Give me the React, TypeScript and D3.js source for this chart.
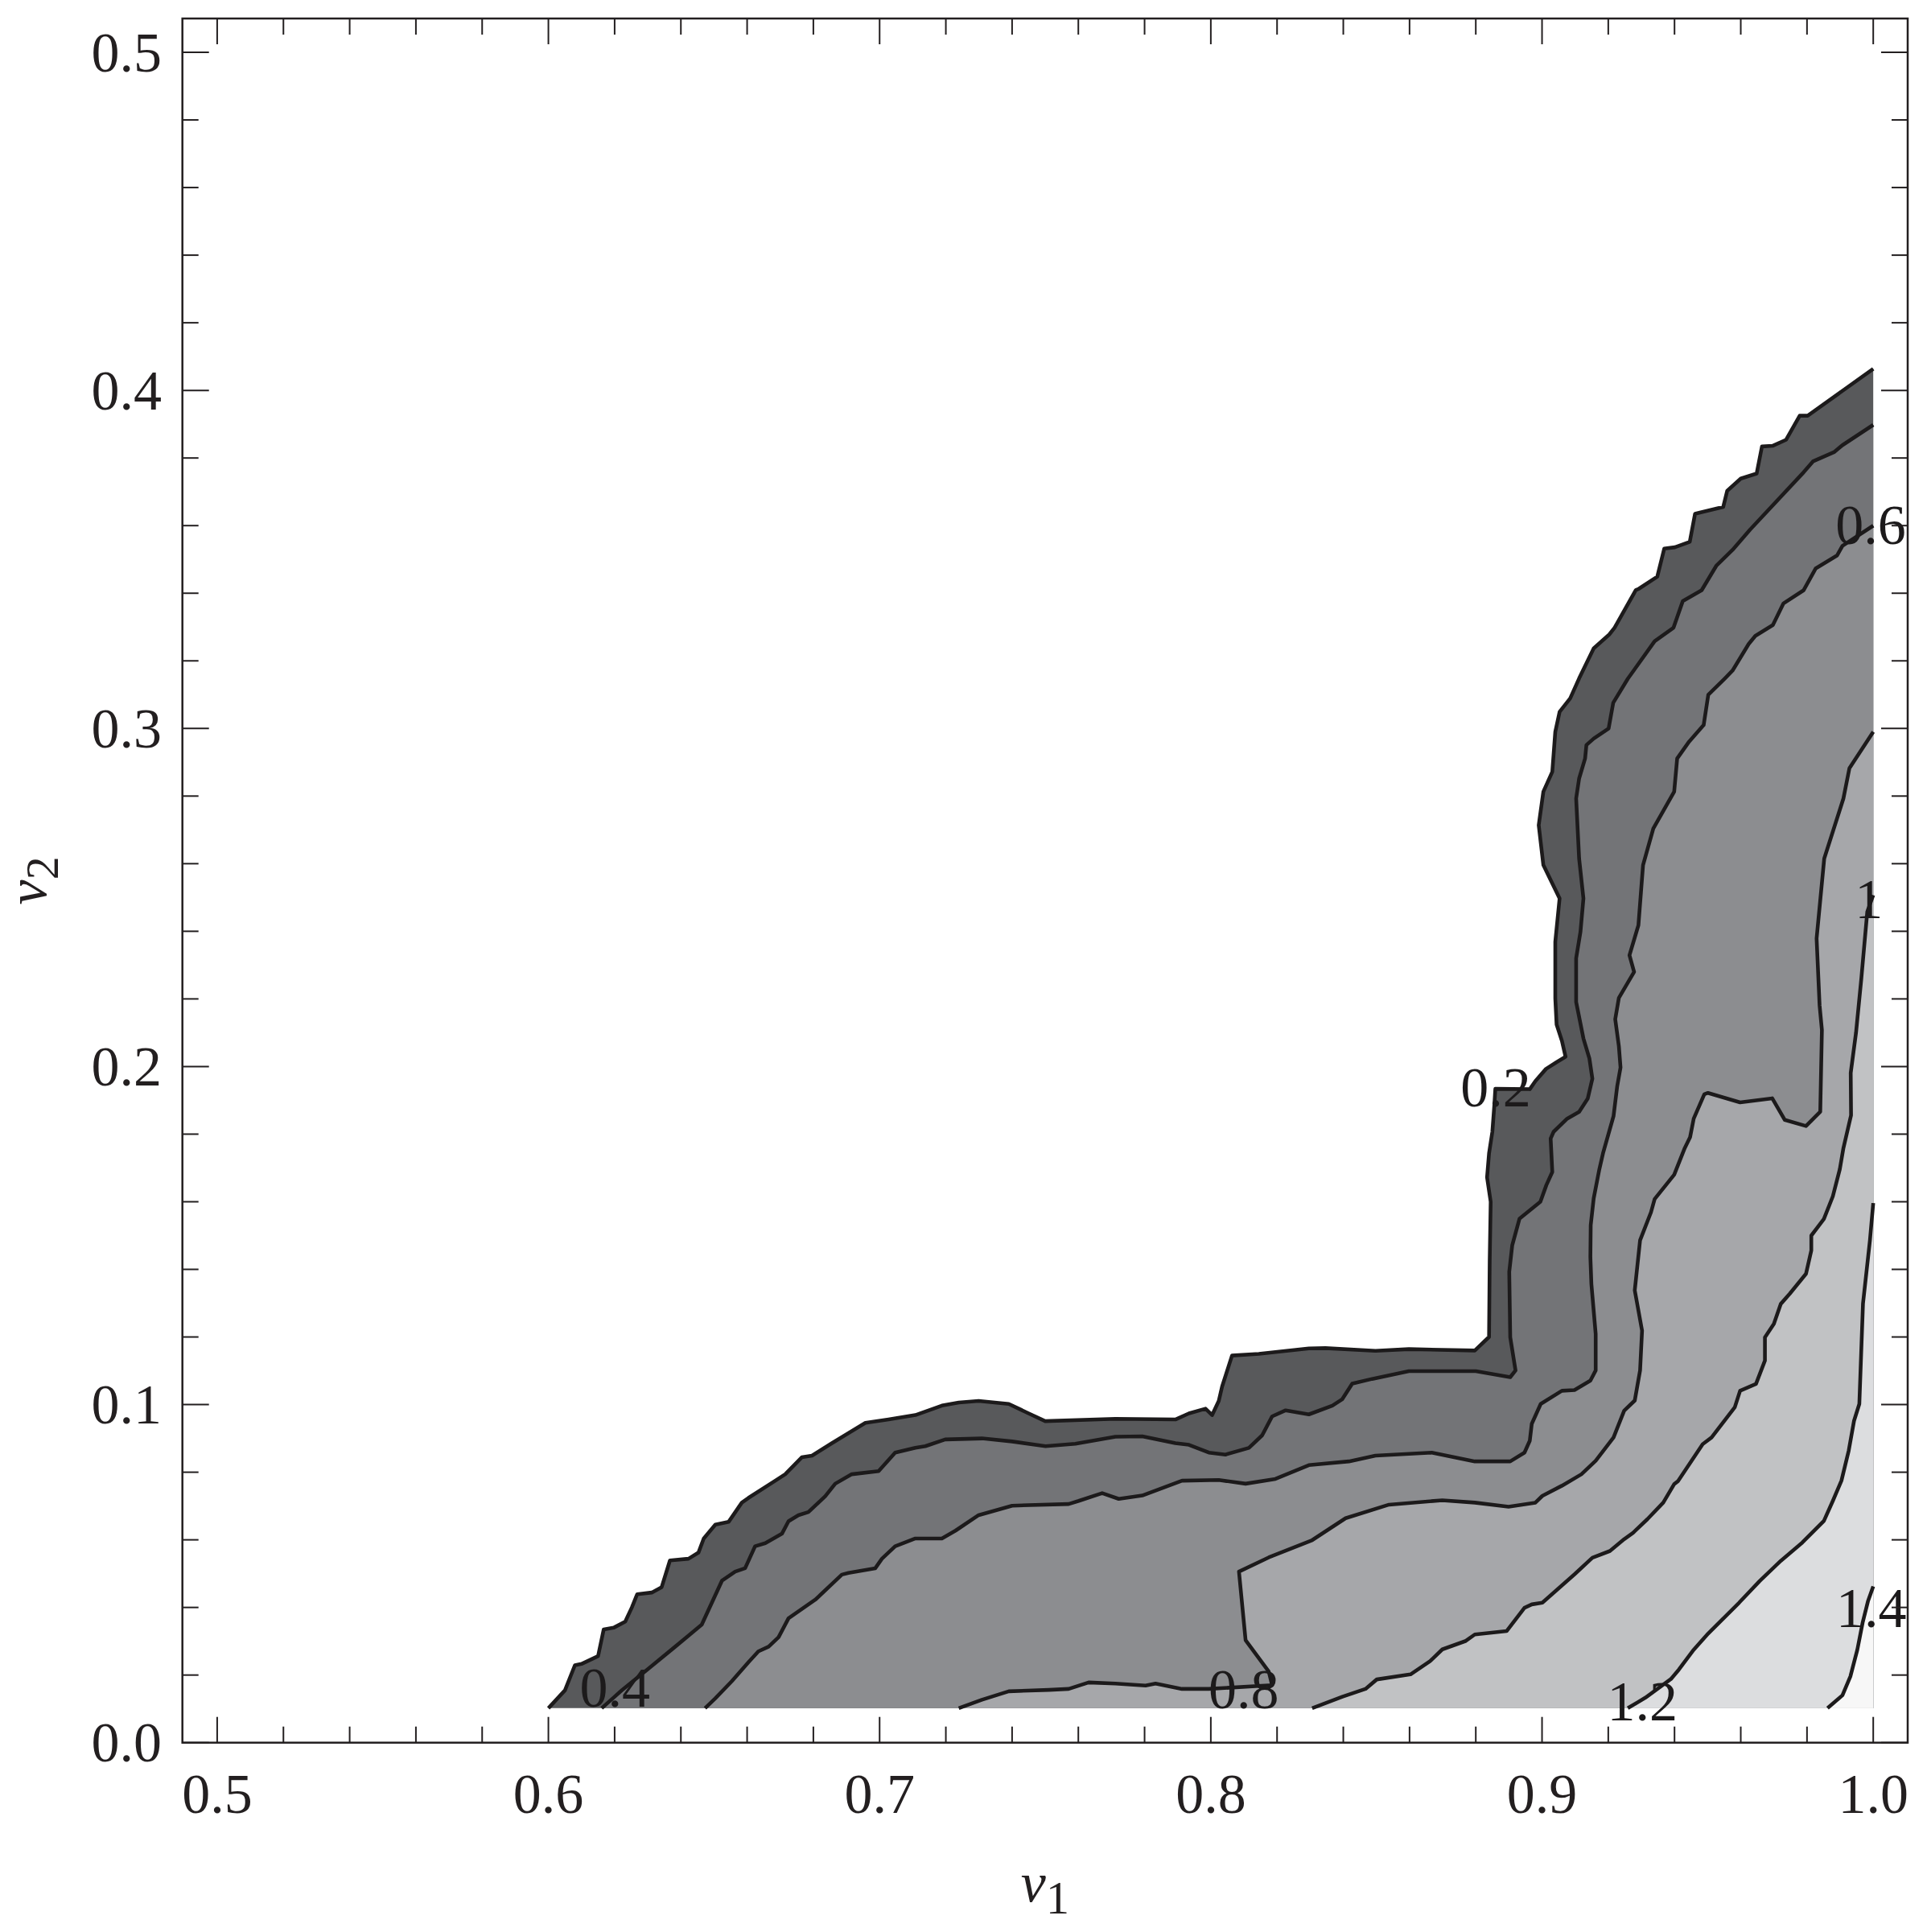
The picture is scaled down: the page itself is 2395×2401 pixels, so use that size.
import React from "react";
import * as d3 from "d3";

// ---------- data (v1, v2) ----------
const contourLevels = [0.2, 0.4, 0.6, 0.8, 1.0, 1.2, 1.4];
const levelFills = ["#58595b", "#737477", "#8c8d90", "#a6a7aa", "#c1c2c4", "#dcdddf", "#f7f7f7"];

const contour02: [number, number][] = [
  [0.600, 0.0102], [0.605, 0.0155], [0.608, 0.0229], [0.610, 0.0233], [0.615, 0.0256], [0.6167, 0.0335], [0.6197, 0.034],
  [0.6232, 0.0358], [0.6252, 0.040], [0.6268, 0.0439], [0.6312, 0.0444], [0.6342, 0.046], [0.6367, 0.0539], [0.6423, 0.0544],
  [0.6453, 0.0562], [0.6469, 0.0604], [0.6504, 0.0645], [0.6544, 0.0653], [0.6584, 0.071], [0.6604, 0.0724], [0.6685, 0.0775],
  [0.6715, 0.0794], [0.6765, 0.0844], [0.6796, 0.0849], [0.6856, 0.0886], [0.6957, 0.0946], [0.7027, 0.0956], [0.7108, 0.0969],
  [0.7188, 0.0997], [0.7239, 0.1006], [0.7299, 0.1011], [0.739, 0.1002], [0.745, 0.0974], [0.75, 0.0951], [0.7712, 0.0958],
  [0.7893, 0.0956], [0.7934, 0.0974], [0.7984, 0.0988], [0.8004, 0.0969], [0.8024, 0.1011], [0.8034, 0.1053], [0.8064, 0.1145],
  [0.8145, 0.115], [0.8296, 0.1166], [0.8346, 0.1167], [0.8497, 0.1159], [0.8598, 0.1164], [0.8797, 0.116], [0.8840, 0.1200],
  [0.8842, 0.1426], [0.8845, 0.16], [0.8834, 0.1672], [0.8840, 0.1743], [0.8850, 0.1807], [0.8856, 0.1886], [0.8859, 0.1934],
  [0.8963, 0.1933], [0.8980, 0.1957], [0.9012, 0.1993], [0.9044, 0.2013], [0.9071, 0.2029], [0.9060, 0.2076], [0.9044, 0.2124],
  [0.9040, 0.2201], [0.904, 0.2369], [0.9053, 0.2497], [0.9004, 0.2596], [0.899, 0.2714], [0.9004, 0.2813], [0.9031, 0.2872],
  [0.904, 0.299], [0.9053, 0.3049], [0.9085, 0.3089], [0.9112, 0.3148], [0.9156, 0.3237], [0.9203, 0.3278], [0.9219, 0.3298],
  [0.9283, 0.3409], [0.9292, 0.3413], [0.9348, 0.3449], [0.9369, 0.3532], [0.9401, 0.3536], [0.9446, 0.3552], [0.9462, 0.3635],
  [0.9474, 0.3638], [0.9547, 0.3655], [0.9559, 0.3703], [0.96, 0.3739], [0.9648, 0.3754], [0.9664, 0.3834], [0.9696, 0.3836],
  [0.9737, 0.3854], [0.9778, 0.3925], [0.9802, 0.3925], [1.0, 0.4064],
];

const contour04: [number, number][] = [
  [0.6161, 0.0102], [0.6222, 0.0155], [0.6302, 0.0219], [0.6383, 0.0284], [0.6463, 0.0349], [0.6524, 0.0479], [0.6564, 0.0506],
  [0.6594, 0.0516], [0.6624, 0.0581], [0.6655, 0.059], [0.6705, 0.0618], [0.6725, 0.0655], [0.6755, 0.0673], [0.6785, 0.0682],
  [0.6836, 0.0729], [0.6866, 0.0766], [0.6916, 0.0794], [0.6997, 0.0803], [0.7047, 0.0858], [0.7108, 0.0872], [0.7138, 0.0877],
  [0.7198, 0.0897], [0.7309, 0.09], [0.74, 0.0891], [0.7501, 0.0877], [0.7591, 0.0884], [0.7712, 0.0905], [0.7793, 0.0906],
  [0.7893, 0.0886], [0.7934, 0.0881], [0.7994, 0.0858], [0.8044, 0.0852], [0.8115, 0.0872], [0.8155, 0.0909], [0.8185, 0.0965],
  [0.8226, 0.0983], [0.8296, 0.0971], [0.8367, 0.0997], [0.8397, 0.1016], [0.8427, 0.1062], [0.8487, 0.1076], [0.8598, 0.1099],
  [0.88, 0.1099], [0.8904, 0.1081], [0.892, 0.1101], [0.8904, 0.1199], [0.8901, 0.1393], [0.891, 0.1471], [0.8932, 0.155],
  [0.8995, 0.16], [0.9013, 0.1649], [0.9031, 0.1688], [0.9026, 0.1787], [0.9035, 0.1807], [0.9076, 0.1846], [0.9112, 0.1866],
  [0.9138, 0.1905], [0.9152, 0.1964], [0.9143, 0.2024], [0.9125, 0.2083], [0.9103, 0.2191], [0.9103, 0.232], [0.9116, 0.2398],
  [0.9125, 0.2497], [0.9112, 0.2615], [0.9103, 0.2793], [0.9112, 0.2852], [0.913, 0.2911], [0.9134, 0.2951], [0.9156, 0.297],
  [0.9201, 0.3], [0.9215, 0.3076], [0.9259, 0.3147], [0.934, 0.3258], [0.9397, 0.3298], [0.9425, 0.3377], [0.9482, 0.3409],
  [0.9526, 0.3481], [0.9575, 0.3528], [0.9628, 0.3588], [0.979, 0.3758], [0.9818, 0.379], [0.9883, 0.3818], [0.9907, 0.3838],
  [1.0, 0.3898],
];

const contour06: [number, number][] = [
  [0.6473, 0.0102], [0.6504, 0.0131], [0.6554, 0.0182], [0.6604, 0.0238], [0.6634, 0.027], [0.6665, 0.0284], [0.6695, 0.0312],
  [0.6725, 0.0368], [0.6806, 0.0423], [0.6886, 0.0497], [0.6906, 0.0502], [0.6987, 0.0516], [0.7007, 0.0544], [0.7047, 0.0581],
  [0.7108, 0.0604], [0.7188, 0.0604], [0.7229, 0.0627], [0.7299, 0.0673], [0.74, 0.0701], [0.7571, 0.0706], [0.7601, 0.0715],
  [0.7672, 0.0738], [0.7722, 0.0721], [0.7793, 0.0731], [0.7913, 0.0775], [0.8024, 0.0777], [0.8105, 0.0766], [0.8195, 0.078],
  [0.8296, 0.0821], [0.8417, 0.0832], [0.8497, 0.0849], [0.8667, 0.0858], [0.8797, 0.0832], [0.8904, 0.0832], [0.8947, 0.0858],
  [0.8963, 0.0893], [0.8969, 0.0943], [0.8996, 0.1002], [0.906, 0.1041], [0.9098, 0.1043], [0.9146, 0.1071], [0.9162, 0.1101],
  [0.9162, 0.1209], [0.9149, 0.1357], [0.9146, 0.1436], [0.9147, 0.1531], [0.9156, 0.161], [0.9173, 0.1696], [0.9184, 0.1743],
  [0.9216, 0.1854], [0.9227, 0.1942], [0.9237, 0.1997], [0.9232, 0.206], [0.9221, 0.214], [0.9232, 0.2203], [0.9278, 0.228],
  [0.9264, 0.2329], [0.9291, 0.2418], [0.9305, 0.2596], [0.9336, 0.2704], [0.9399, 0.2813], [0.9408, 0.2911], [0.9444, 0.2961],
  [0.9488, 0.301], [0.9502, 0.31], [0.9551, 0.3147], [0.9575, 0.3171], [0.9624, 0.325], [0.9644, 0.3274], [0.9697, 0.3306],
  [0.9729, 0.337], [0.979, 0.3409], [0.9826, 0.3473], [0.9891, 0.3512], [0.9907, 0.354], [1.0, 0.36],
];

const contour08: [number, number][] = [
  [0.7239, 0.0102], [0.7309, 0.0127], [0.739, 0.0152], [0.7511, 0.0156], [0.7571, 0.0159], [0.7631, 0.0178], [0.7712, 0.0175],
  [0.7803, 0.0169], [0.7833, 0.0175], [0.7913, 0.0159], [0.7994, 0.0159], [0.8185, 0.017], [0.8175, 0.021], [0.8105, 0.0303],
  [0.8085, 0.0506], [0.8175, 0.0548], [0.8306, 0.0599], [0.8407, 0.0664], [0.8538, 0.0704], [0.8699, 0.0717], [0.8797, 0.071],
  [0.8899, 0.0698], [0.898, 0.071], [0.9001, 0.073], [0.906, 0.076], [0.9119, 0.0794], [0.9162, 0.0834], [0.9216, 0.0903],
  [0.9248, 0.0982], [0.928, 0.1012], [0.9296, 0.1101], [0.9302, 0.1219], [0.928, 0.1338], [0.9296, 0.1486], [0.9329, 0.1569],
  [0.934, 0.1608], [0.9399, 0.168], [0.9431, 0.1759], [0.9447, 0.1791], [0.9458, 0.1846], [0.949, 0.1918], [0.9501, 0.1922],
  [0.9598, 0.1894], [0.9695, 0.1906], [0.9733, 0.1842], [0.9797, 0.1824], [0.984, 0.1866], [0.9845, 0.2108], [0.9838, 0.2181],
  [0.9829, 0.2379], [0.9852, 0.2615], [0.991, 0.2793], [0.9928, 0.2882], [1.0, 0.299],
];

const contour10: [number, number][] = [
  [0.8306, 0.0102], [0.8397, 0.0136], [0.8467, 0.0159], [0.8501, 0.0187], [0.8603, 0.0202], [0.8662, 0.0241], [0.8699, 0.0276],
  [0.877, 0.0301], [0.8797, 0.032], [0.8893, 0.033], [0.8947, 0.0399], [0.8969, 0.0409], [0.9001, 0.0414], [0.9098, 0.0498],
  [0.9152, 0.0547], [0.9205, 0.0567], [0.9248, 0.0602], [0.9275, 0.0621], [0.9318, 0.0661], [0.9366, 0.071], [0.9399, 0.0765],
  [0.941, 0.0773], [0.9485, 0.0883], [0.9512, 0.0903], [0.9582, 0.0992], [0.9598, 0.1041], [0.9646, 0.1061], [0.9673, 0.113],
  [0.9673, 0.1199], [0.97, 0.1239], [0.9721, 0.1298], [0.9748, 0.1328], [0.9797, 0.1387], [0.9813, 0.1456], [0.9813, 0.15],
  [0.9851, 0.1549], [0.9878, 0.1616], [0.9899, 0.1696], [0.991, 0.1759], [0.9933, 0.1856], [0.9932, 0.1981], [0.9948, 0.21],
  [0.9964, 0.226], [0.9982, 0.2458], [1.0, 0.2507],
];

const contour12: [number, number][] = [
  [0.9259, 0.0102], [0.9312, 0.0133], [0.9389, 0.0188], [0.9413, 0.0216], [0.9458, 0.0275], [0.9498, 0.0319], [0.9595, 0.0414],
  [0.9657, 0.0478], [0.9721, 0.0538], [0.9786, 0.0592], [0.9851, 0.0656], [0.9878, 0.0715], [0.9904, 0.0775], [0.9926, 0.0864],
  [0.9942, 0.0952], [0.9958, 0.1002], [0.9969, 0.1298], [0.999, 0.1486], [1.0, 0.1596],
];

const contour14: [number, number][] = [
  [0.9862, 0.0102], [0.9907, 0.014], [0.9931, 0.0196], [0.9952, 0.0275], [0.9968, 0.0355], [0.9984, 0.0418], [1.0, 0.0462],
];

const contours = [contour02, contour04, contour06, contour08, contour10, contour12, contour14];
const domainCorner: [number, number] = [1.0, 0.0102];

const contourLabelTexts = ["0.2", "0.4", "0.6", "0.8", "1", "1.2", "1.4"];
const contourLabelPos: [number, number][] = [
  [0.886, 0.194], [0.6201, 0.0164], [0.9992, 0.3604], [0.8099, 0.0159], [0.9987, 0.2497], [0.9303, 0.0123], [0.9994, 0.04],
];

const xTickValues = [0.5, 0.6, 0.7, 0.8, 0.9, 1.0];
const xTickLabels = ["0.5", "0.6", "0.7", "0.8", "0.9", "1.0"];
const yTickValues = [0.0, 0.1, 0.2, 0.3, 0.4, 0.5];
const yTickLabels = ["0.0", "0.1", "0.2", "0.3", "0.4", "0.5"];

// ---------- layout ----------
const W = 2395;
const H = 2401;
const LEFT = 226.7, RIGHT = 2371, TOP = 23, BOTTOM = 2165.7;
const FONT = "'Liberation Serif', 'Times New Roman', Times, serif";

const x = d3.scaleLinear().domain([0.4895, 1.0104]).range([LEFT, RIGHT]);
const y = d3.scaleLinear().domain([0, 0.51]).range([BOTTOM, TOP]);

const line = d3
  .line<[number, number]>()
  .x((d) => x(d[0]))
  .y((d) => y(d[1]));

const xMinor = d3.range(0, 26).map((i) => 0.5 + i * 0.02);
const yMinor = d3.range(0, 26).map((i) => i * 0.02);
const isMajor = (i: number) => i % 5 === 0;

export default function App() {
  const MAJ = 32, MIN = 20;
  return (
    <svg
      width={W}
      height={H}
      viewBox={`0 0 ${W} ${H}`}
      style={{ position: "absolute", left: 0, top: 0, background: "#fff" }}
    >
      <rect x={0} y={0} width={W} height={H} fill="#ffffff" />
      {/* filled contour bands */}
      {contours.map((c, i) => (
        <path key={"f" + i} d={line([...c, domainCorner]) + "Z"} fill={levelFills[i]} stroke="none" />
      ))}
      {/* contour lines */}
      {contours.map((c, i) => (
        <path
          key={"l" + i}
          d={line(c) || ""}
          fill="none"
          stroke="#1c1a1b"
          strokeWidth={4.6}
          strokeLinejoin="round"
          strokeLinecap="butt"
        />
      ))}
      {/* contour labels */}
      {contourLabelTexts.map((t, i) => (
        <text
          key={"cl" + i}
          x={x(contourLabelPos[i][0])}
          y={y(contourLabelPos[i][1]) + 24}
          fontFamily={FONT}
          fontSize={70}
          textAnchor="middle"
          fill="#1c1a1b"
        >
          {t}
        </text>
      ))}
      {/* frame */}
      <rect x={LEFT} y={TOP} width={RIGHT - LEFT} height={BOTTOM - TOP} fill="none" stroke="#231f20" strokeWidth={2.5} />
      {/* x ticks bottom & top */}
      {xMinor.map((v, i) => {
        const len = isMajor(i) ? MAJ : MIN;
        return (
          <g key={"xt" + i} stroke="#231f20" strokeWidth={2}>
            <line x1={x(v)} x2={x(v)} y1={BOTTOM} y2={BOTTOM - len} />
            <line x1={x(v)} x2={x(v)} y1={TOP} y2={TOP + len} />
          </g>
        );
      })}
      {/* y ticks left & right */}
      {yMinor.map((v, i) => {
        const len = isMajor(i) ? MAJ + 1 : MIN;
        return (
          <g key={"yt" + i} stroke="#231f20" strokeWidth={2}>
            <line x1={LEFT} x2={LEFT + len} y1={y(v)} y2={y(v)} />
            <line x1={RIGHT} x2={RIGHT - len} y1={y(v)} y2={y(v)} />
          </g>
        );
      })}
      {/* tick labels */}
      {xTickValues.map((v, i) => (
        <text key={"xl" + i} x={x(v)} y={2253} fontFamily={FONT} fontSize={70} textAnchor="middle" fill="#231f20">
          {xTickLabels[i]}
        </text>
      ))}
      {yTickValues.map((v, i) => (
        <text key={"yl" + i} x={201} y={y(v) + 23.5} fontFamily={FONT} fontSize={70} textAnchor="end" fill="#231f20">
          {yTickLabels[i]}
        </text>
      ))}
      {/* axis labels */}
      <text x={(LEFT + RIGHT) / 2} y={2363} fontFamily={FONT} fontSize={70} textAnchor="middle" fill="#231f20">
        <tspan fontStyle="italic">v</tspan>
        <tspan fontSize={58} dy={15}>1</tspan>
      </text>
      <text
        transform={`translate(57, ${(TOP + BOTTOM) / 2}) rotate(-90)`}
        fontFamily={FONT}
        fontSize={70}
        textAnchor="middle"
        fill="#231f20"
      >
        <tspan fontStyle="italic">v</tspan>
        <tspan fontSize={58} dy={15}>2</tspan>
      </text>
    </svg>
  );
}
